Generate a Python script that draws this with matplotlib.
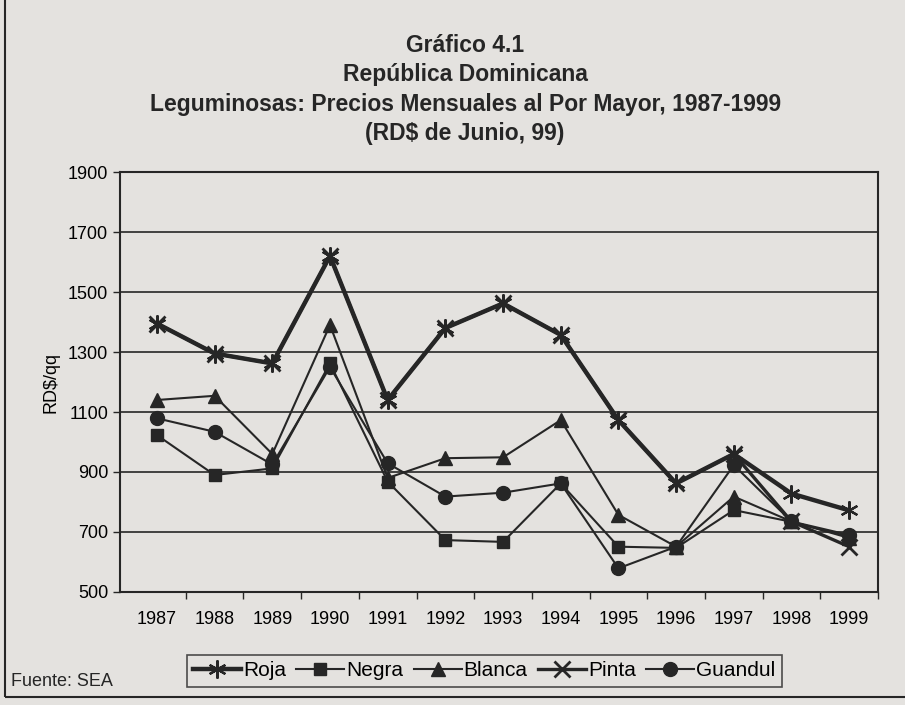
import matplotlib.pyplot as plt
from matplotlib.patches import Rectangle

plt.rcParams['font.family'] = ['Liberation Sans', 'DejaVu Sans']

years = [1987, 1988, 1989, 1990, 1991, 1992, 1993, 1994, 1995, 1996, 1997, 1998, 1999]
roja = [1395, 1295, 1262, 1620, 1140, 1380, 1462, 1357, 1073, 862, 960, 828, 772]
negra = [1023, 890, 912, 1262, 868, 673, 667, 862, 651, 647, 773, 734, 684]
blanca = [1140, 1154, 960, 1390, 880, 946, 949, 1073, 757, 651, 818, 735, 680]
pinta = [1395, 1295, 1262, 1620, 1140, 1380, 1462, 1357, 1073, 862, 960, 735, 651]
guandul = [1079, 1034, 925, 1250, 929, 818, 831, 862, 579, 651, 923, 735, 690]

ink = '#262626'
paper = '#e4e2df'

fig = plt.figure(figsize=(9.05, 7.05), dpi=100, facecolor=paper)
ax = fig.add_axes([0.1326, 0.1603, 0.8376, 0.5957], facecolor=paper)

ax.plot(years, roja, color=ink, lw=3.2, marker=(6, 2, 0), ms=13, mew=1.6, label='Roja', zorder=4)
ax.plot(years, negra, color=ink, lw=1.5, marker='s', ms=9, label='Negra', zorder=3)
ax.plot(years, blanca, color=ink, lw=1.5, marker='^', ms=10, label='Blanca', zorder=3)
ax.plot(years, pinta, color=ink, lw=2.4, marker='x', ms=12, mew=2, label='Pinta', zorder=4)
ax.plot(years, guandul, color=ink, lw=1.5, marker='o', ms=10, label='Guandul', zorder=3)

ax.set_ylim(500, 1900)
ax.set_yticks(range(500, 1901, 200))
ax.set_xlim(1986.36, 1999.5)
ax.set_xticks([y - 0.5 for y in years[1:]] + [1999.5])
ax.set_xticklabels([])
ax.set_xticks(years, minor=True)
ax.set_xticklabels([str(y) for y in years], minor=True)
ax.tick_params(axis='x', which='major', length=5, width=1, color=ink)
ax.tick_params(axis='x', which='minor', length=0, pad=14, labelsize=13)
ax.tick_params(axis='y', length=5, width=1, labelsize=13, color=ink)
ax.grid(axis='y', color=ink, lw=1.2)
for s in ax.spines.values():
    s.set_color(ink)
    s.set_linewidth(1.5)
ax.set_ylabel('RD$/qq', fontsize=13, labelpad=6)

titles = ['Gráfico 4.1', 'República Dominicana',
          'Leguminosas: Precios Mensuales al Por Mayor, 1987-1999',
          '(RD$ de Junio, 99)']
for i, t in enumerate(titles):
    fig.text(0.514, 1 - (45 + i * 29.5) / 705, t, ha='center', va='center',
             fontsize=16.5, fontweight='bold', color=ink)

leg = fig.legend(loc='center', bbox_to_anchor=(0.535, 1 - 671 / 705), ncol=5,
                 fontsize=15, frameon=True, fancybox=False, handlelength=2.3,
                 handletextpad=0.1, columnspacing=0.5, borderpad=0.3)
leg.get_frame().set_edgecolor(ink)
leg.get_frame().set_linewidth(1.2)
leg.get_frame().set_facecolor(paper)

fig.text(0.012, 1 - 681 / 705, 'Fuente: SEA', fontsize=13, va='center', color=ink)

fig.patches.append(Rectangle((0.006, 0.012), 1.2, 1.2, transform=fig.transFigure,
                             fill=False, edgecolor=ink, lw=1.5))

fig.savefig('out.png', dpi=100, facecolor=paper)
